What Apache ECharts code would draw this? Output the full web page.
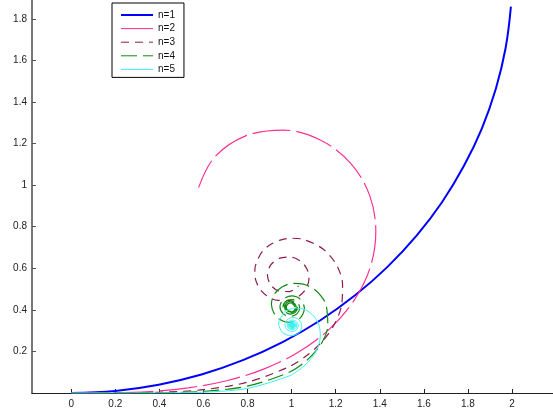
<!DOCTYPE html>
<html>
<head>
<meta charset="utf-8">
<script src="https://cdn.jsdelivr.net/npm/echarts@6/dist/echarts.min.js"></script>
<style>html,body{margin:0;padding:0;background:#fff;}#c{width:553px;height:411px;}</style>
</head>
<body>
<div id="c"></div>
<script>
const seriesNames = ['n=1', 'n=2', 'n=3', 'n=4', 'n=5'];
const xTicks = [0, 0.2, 0.4, 0.6, 0.8, 1, 1.2, 1.4, 1.6, 1.8, 2];
const yTicks = [0.2, 0.4, 0.6, 0.8, 1, 1.2, 1.4, 1.6, 1.8];

const n1 = [[0,0],[0.2,0.01],[0.397,0.04],[0.591,0.089],[0.779,0.158],[0.959,0.245],[1.129,0.349],[1.288,0.47],[1.435,0.607],[1.567,0.757],[1.683,0.919],[1.782,1.093],[1.864,1.275],[1.927,1.465],[1.971,1.66],[1.995,1.859]];

const n2 = [[0,0],[0.177,0.001],[0.354,0.007],[0.531,0.025],[0.705,0.059],[0.873,0.115],[1.03,0.196],[1.169,0.305],[1.281,0.442],[1.356,0.602],[1.382,0.777],[1.354,0.951],[1.268,1.105],[1.132,1.216],[0.963,1.265],[0.789,1.236],[0.648,1.132],[0.578,0.988]];

const n3 = [[0,0],[0.2,0.0002],[0.4,0.0032],[0.5995,0.0162],[0.7963,0.051],[0.9823,0.123],[1.0655,0.1778],[1.1381,0.2466],[1.1933,0.3292],[1.227,0.4234],[1.2311,0.5221],[1.2027,0.6181],[1.141,0.6942],[1.0517,0.7396],[1.0023,0.7446],[0.9528,0.737],[0.9077,0.7165],[0.8697,0.6839],[0.847,0.6438],[0.8333,0.5959],[0.8363,0.5462],[0.8562,0.5006],[0.891,0.4652],[0.9367,0.4454],[0.9863,0.445],[1.0318,0.4645],[1.0649,0.5014],[1.0787,0.5491],[1.0692,0.5977],[1.0382,0.6361],[0.9924,0.6547],[0.9435,0.6477],[0.9054,0.6162],[0.8903,0.5694],[0.9037,0.5219],[0.9418,0.4908],[0.9908,0.4881],[1.0315,0.5157]];

const n4 = [[0,0],[0.2,0],[0.4,0.001],[0.5999,0.0078],[0.7981,0.0327],[0.9863,0.0984],[1.0673,0.1558],[1.1316,0.2322],[1.1642,0.3247],[1.1562,0.4242],[1.1327,0.4677],[1.097,0.5029],[1.0523,0.5235],[1.0023,0.5271],[0.9564,0.5103],[0.921,0.4748],[0.9084,0.4273],[0.9319,0.3645],[0.987,0.3401],[1.038,0.3602],[1.0579,0.4065],[1.0405,0.4499],[1.0003,0.467],[0.9623,0.4515],[0.9472,0.4159],[0.9611,0.3818],[0.9932,0.3683],[1.0241,0.3809],[1.0364,0.4103],[1.0248,0.4386],[0.9977,0.45],[0.9715,0.4392],[0.961,0.414],[0.971,0.3896],[0.9946,0.3798],[1.0175,0.3892],[1.0267,0.4114],[1.0179,0.433],[0.9969,0.4417],[0.9765,0.4333],[0.9682,0.4134],[0.9762,0.394],[0.9951,0.3861],[1.0136,0.3937],[1.0212,0.4118],[1.0139,0.4295],[0.9965,0.4367],[0.9796,0.4297],[0.9727,0.4131],[0.9794,0.3968],[0.9954,0.3901],[1.0111,0.3966],[1.0175,0.412],[1.0112,0.4272],[0.9964,0.4334],[0.9817,0.4273],[0.9757,0.4129],[0.9816,0.3988],[0.9955,0.393],[1.0092,0.3986],[1.0149,0.4121],[1.0094,0.4255],[1.0024,0.4298]];

const n5 = [[0,0],[0.2,0],[0.4,0.0003],[0.6,0.0039],[0.799,0.0218],[0.9887,0.082],[1.0307,0.1089],[1.0685,0.1417],[1.0992,0.1809],[1.1211,0.2258],[1.1302,0.2745],[1.1247,0.3242],[1.1022,0.3678],[1.0636,0.3997],[1.0162,0.409],[0.9689,0.3926],[0.9649,0.3863],[0.9409,0.3372],[0.9575,0.2924],[0.9964,0.275],[1.0323,0.289],[1.0462,0.3214],[1.0342,0.3516],[1.0063,0.3635],[0.9801,0.3529],[0.9698,0.3284],[0.9792,0.3051],[1.0012,0.2959],[1.0222,0.3044],[1.0305,0.3243],[1.0227,0.3435],[1.0044,0.3511],[0.9868,0.3439],[0.9797,0.327],[0.9864,0.3106],[1.0022,0.3041],[1.0174,0.3103],[1.0236,0.3251],[1.0177,0.3394],[1.0038,0.3452],[0.9903,0.3397],[0.9848,0.3265],[0.9901,0.3137],[1.0025,0.3085],[1.0197,0.3254],[1.0035,0.3418],[0.9879,0.3263],[1.0027,0.3113],[1.0171,0.3256],[1.0034,0.3394],[0.9901,0.3262],[1.0028,0.3133],[1.0153,0.3257],[1.0033,0.3377],[0.9916,0.3261],[1.0029,0.3148],[1.0139,0.3257],[1.0033,0.3364],[0.9928,0.3261],[1.0029,0.3159],[1.0129,0.3257],[1.0032,0.3354],[0.9938,0.326],[1.003,0.3168],[1.012,0.3258],[1.0032,0.3346],[0.9946,0.326],[1.003,0.3175],[1.0113,0.3259],[1.0031,0.334],[0.9952,0.3259],[1.0031,0.3181],[1.0107,0.3259],[1.0031,0.3334],[0.9958,0.3259],[1.0031,0.3187],[1.0102,0.3259],[1.0031,0.3329],[0.9962,0.3259],[1.0031,0.3191],[1.0098,0.3259],[1.0031,0.3325],[0.9966,0.3259],[1.0031,0.3195],[1.0094,0.3259],[1.0031,0.3321],[0.997,0.3259],[1.0031,0.3199],[1.0091,0.3259],[1.0031,0.3318],[0.9973,0.3259],[1.0031,0.3202],[1.0088,0.3259],[1.0031,0.3315],[0.9976,0.3259],[1.0031,0.3204],[1.0085,0.3259],[1.0031,0.3313],[0.9978,0.3259],[1.0031,0.3207],[1.0083,0.3259],[1.0031,0.331],[0.998,0.3259],[1.0031,0.3209],[1.0081,0.3259],[1.0073,0.3285]];

const fmt = v => String(parseFloat(Number(v).toFixed(2)));
const font = 'Liberation Sans, Arial, Helvetica, sans-serif';

const chart = echarts.init(document.getElementById('c'), null, {renderer: 'canvas'});
chart.setOption({
  animation: false,
  backgroundColor: '#ffffff',
  grid: {left: 32, right: 0, top: 0, bottom: 18, containLabel: false},
  xAxis: {
    type: 'value', min: -0.178, max: 2.186,
    axisLine: {show: true, onZero: false, lineStyle: {color: '#222', width: 1}},
    axisTick: {show: true, inside: true, length: 4, customValues: xTicks, lineStyle: {color: '#222'}},
    axisLabel: {customValues: xTicks, formatter: fmt, color: '#222', fontSize: 10, fontFamily: font, margin: 6},
    splitLine: {show: false}
  },
  yAxis: {
    type: 'value', min: 0, max: 1.891,
    axisLine: {show: true, onZero: false, lineStyle: {color: '#777', width: 2}},
    axisTick: {show: true, inside: true, length: 4, customValues: yTicks, lineStyle: {color: '#555'}},
    axisLabel: {customValues: yTicks, formatter: fmt, color: '#222', fontSize: 10, fontFamily: font, margin: 5},
    splitLine: {show: false}
  },
  legend: {
    show: true, orient: 'vertical', left: 112, top: 3,
    data: [
      {name: seriesNames[0]},
      {name: seriesNames[1], lineStyle: {width: 1}},
      {name: seriesNames[2], lineStyle: {width: 1}},
      {name: seriesNames[3], lineStyle: {width: 1}},
      {name: seriesNames[4], lineStyle: {width: 1}}
    ],
    itemWidth: 32, itemHeight: 10, itemGap: 3.6,
    padding: [7, 9, 3, 8],
    borderColor: '#000', borderWidth: 1, backgroundColor: '#fff', borderRadius: 0,
    itemStyle: {opacity: 0},
    textStyle: {fontSize: 10, fontFamily: font, color: '#111'}
  },
  series: [
    {name: seriesNames[0], type: 'line', data: n1, symbol: 'none', smooth: 0.4, clip: true,
      lineStyle: {color: '#0000ff', width: 2}, itemStyle: {color: '#0000ff'}},
    {name: seriesNames[1], type: 'line', data: n2, symbol: 'none', smooth: 0.35, clip: true,
      lineStyle: {color: '#ff2f93', width: 1.2, type: [38, 6]}, itemStyle: {color: '#ff2f93'}},
    {name: seriesNames[2], type: 'line', data: n3, symbol: 'none', smooth: 0.3, clip: true,
      lineStyle: {color: '#8e1b52', width: 1.2, type: [8, 6]}, itemStyle: {color: '#8e1b52'}},
    {name: seriesNames[3], type: 'line', data: n4, symbol: 'none', smooth: 0.3, clip: true,
      lineStyle: {color: '#0f8a0f', width: 1.2, type: [16, 6]}, itemStyle: {color: '#0f8a0f'}},
    {name: seriesNames[4], type: 'line', data: n5, symbol: 'none', smooth: 0.3, clip: true,
      lineStyle: {color: '#40f0f0', width: 1}, itemStyle: {color: '#40f0f0'}}
  ]
});
</script>
</body>
</html>
